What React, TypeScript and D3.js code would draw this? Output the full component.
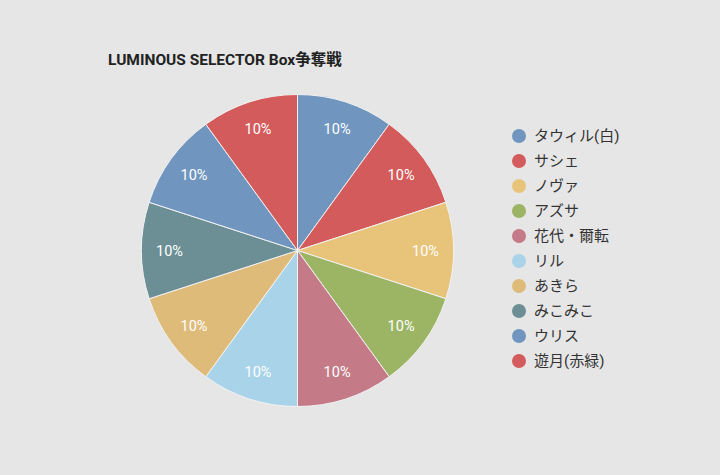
import React from "react";
import * as d3 from "d3";

const categories = ["タウィル(白)", "サシェ", "ノヴァ", "アズサ", "花代・爾転", "リル", "あきら", "みこみこ", "ウリス", "遊月(赤緑)"];
const values = [10, 10, 10, 10, 10, 10, 10, 10, 10, 10];
const colors = ["#7096bf", "#d45b5b", "#e8c47a", "#9bb565", "#c47b87", "#a9d3e9", "#dfbb7a", "#6b8f94", "#7096bf", "#d45b5b"];
const title = "LUMINOUS SELECTOR Box争奪戦";

export default function App() {
  const W = 720, H = 475;
  const cx = 297.5, cy = 250.5, r = 156;
  const total = d3.sum(values);
  const pie = d3.pie<number>().sort(null).value((d) => d);
  const arcs = pie(values);
  const arcGen = d3.arc<d3.PieArcDatum<number>>().innerRadius(0).outerRadius(r);
  const labelArc = d3.arc<d3.PieArcDatum<number>>().innerRadius(128).outerRadius(128);
  const font = "Roboto, 'Noto Sans CJK JP', sans-serif";
  const legendY = d3.scaleLinear().domain([0, categories.length - 1]).range([136, 361]);
  return (
    <svg width={W} height={H} style={{ position: "absolute", left: 0, top: 0, display: "block" }}>
      <rect x={0} y={0} width={W} height={H} fill="#e6e6e6" />
      <text x={108} y={65} fontFamily={font} fontWeight="bold" fontSize={15.5} fill="#222">{title}</text>
      <g transform={`translate(${cx},${cy})`}>
        {arcs.map((a, i) => (
          <path key={i} d={arcGen(a) || ""} fill={colors[i]} stroke="#f2f2f2" strokeWidth={1} />
        ))}
        {arcs.map((a, i) => {
          const [x, y] = labelArc.centroid(a);
          return (
            <text key={"l" + i} x={x} y={y} dy="0.35em" textAnchor="middle" fontFamily={font} fontSize={14.5} fill="#ffffff">
              {`${Math.round((values[i] / total) * 100)}%`}
            </text>
          );
        })}
      </g>
      {categories.map((c, i) => (
        <g key={"lg" + i} transform={`translate(519,${legendY(i)})`}>
          <circle r={7} fill={colors[i]} />
          <text x={15} dy="0.35em" fontFamily={font} fontSize={15} fill="#333">{c}</text>
        </g>
      ))}
    </svg>
  );
}
